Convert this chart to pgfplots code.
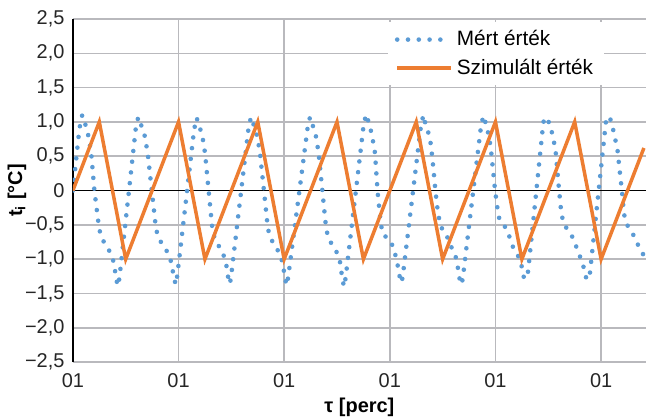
\documentclass[border=0pt]{standalone}
\usepackage{fontspec}
\setmainfont{Liberation Sans}
\usepackage{pgfplots}
\pgfplotsset{compat=1.18}
\definecolor{mert}{HTML}{5B9BD5}
\definecolor{szim}{HTML}{ED7D31}
\definecolor{racs}{HTML}{B9B9BD}

\begin{document}
\begin{tikzpicture}
\begin{axis}[
  scale only axis,
  width=287pt, height=171.85pt,
  xmin=0, xmax=54.25, ymin=-2.5, ymax=2.5,
  axis line style={draw=none},
  major tick length=0pt,
  grid=major,
  major grid style={racs, line width=0.75pt},
  xtick={0,10,20,30,40,50},
  xticklabels={01,01,01,01,01,01},
  ytick={-2.5,-2,-1.5,-1,-0.5,0,0.5,1,1.5,2,2.5},
  yticklabels={{−2,5},{−2,0},{−1,5},{−1,0},{−0,5},0,{0,5},{1,0},{1,5},{2,0},{2,5}},
  extra x ticks={0}, extra x tick labels={},
  extra x tick style={grid=major, major grid style={black, line width=0.75pt}},
  extra y ticks={0}, extra y tick labels={},
  extra y tick style={grid=major, major grid style={black, line width=0.75pt}},
  /pgf/number format/assume math mode=true,
  tick label style={font=\fontsize{10}{12}\selectfont, text=black!85},
  xticklabel style={anchor=base, yshift=-12.8pt},
  yticklabel style={xshift=-0.7pt},
  every axis x label/.style={at={(axis description cs:0.5,0)}, anchor=base, yshift=-25.2pt},
  every axis y label/.style={at={(axis description cs:-0.0976,0.5)}, rotate=90, anchor=center},
  label style={font=\bfseries\fontsize{10}{12}\selectfont},
  xlabel={τ [perc]},
  ylabel={t\textsubscript{i} [°C]},
  legend style={at={(axis description cs:0.549,0.991)}, anchor=north west,
    draw=none, fill=white, inner xsep=3.5pt, inner ysep=2pt, row sep=1pt,
    font=\fontsize{10.4}{12}\selectfont},
  legend cell align=left,
  legend image code/.code={\draw[#1] (0pt,0pt) -- (26.7pt,0pt);},
]
\addplot[mert, line width=2.3pt, line cap=round, dash pattern=on 0pt off 5.4pt] coordinates {
  (0,0.00) (0.616,0.90) (0.881,1.10)
  (1.153,0.98) (1.460,0.80) (1.733,0.55) (2.036,0.0) (2.483,-0.55) (2.653,-0.66)
  (3.028,-0.78) (3.540,-0.90) (3.881,-1.05) (4.119,-1.31) (4.290,-1.39)
  (4.432,-1.24) (5.947,0.90) (6.184,1.07)
  (6.470,0.95) (6.791,0.80) (7.077,0.55) (7.469,0) (7.862,-0.55) (8.040,-0.66)
  (8.433,-0.78) (8.969,-0.90) (9.326,-1.05) (9.576,-1.29) (9.754,-1.37)
  (9.896,-1.22) (11.477,0.89) (11.714,1.06)
  (11.966,0.94) (12.250,0.80) (12.503,0.55) (12.849,0) (13.196,-0.55) (13.354,-0.66)
  (13.701,-0.78) (14.173,-0.90) (14.489,-1.05) (14.710,-1.28) (14.867,-1.36)
  (15.010,-1.21) (16.619,0.90) (16.856,1.07)
  (17.129,0.95) (17.436,0.80) (17.708,0.55) (18.083,0) (18.458,-0.55) (18.629,-0.66)
  (19.004,-0.78) (19.515,-0.90) (19.856,-1.05) (20.095,-1.30) (20.265,-1.38)
  (20.407,-1.23) (22.206,0.90) (22.443,1.07)
  (22.703,0.95) (22.995,0.80) (23.256,0.55) (23.613,0) (23.970,-0.55) (24.133,-0.66)
  (24.490,-0.78) (24.976,-0.90) (25.301,-1.05) (25.529,-1.32) (25.691,-1.40)
  (25.833,-1.25) (27.509,0.94) (27.746,1.11)
  (28.017,0.99) (28.321,0.80) (28.592,0.55) (28.835,0) (29.140,-0.48) (29.356,-0.64)
  (29.990,-0.72) (30.370,-0.84) (30.620,-1.00) (30.840,-1.16) (30.990,-1.32) (31.127,-1.34)
  (31.269,-1.19) (32.936,0.93) (33.172,1.10)
  (33.428,0.94) (33.741,0.80) (33.902,0.65) (34.119,0.33) (34.309,0.01) (34.536,-0.30)
  (34.725,-0.46) (35.066,-0.61) (35.540,-0.70) (35.890,-0.85) (36.269,-0.98)
  (36.458,-1.14) (36.619,-1.30) (36.809,-1.37)
  (36.951,-1.22) (38.617,0.92) (38.854,1.09)
  (39.205,0.92) (39.555,0.63) (39.962,0.0) (40.294,-0.38) (40.530,-0.46) (41.070,-0.56)
  (41.383,-0.70) (41.695,-0.84) (42.169,-0.96) (42.491,-1.11) (42.585,-1.22)
  (42.708,-1.27) (42.850,-1.29)
  (43.087,-1.18) (44.536,1.00) (44.858,1.07)
  (45.237,0.92) (45.672,0.61) (46.023,0.0) (46.241,-0.34) (46.496,-0.50) (46.998,-0.60)
  (47.443,-0.72) (47.756,-0.87) (48.106,-1.00) (48.390,-1.14) (48.580,-1.27) (48.722,-1.30)
  (48.911,-1.25) (50.473,1.03) (50.805,1.08)
  (51.108,0.91) (51.544,0.60) (51.989,-0.04) (52.178,-0.35) (52.462,-0.50) (52.964,-0.62)
  (53.343,-0.74) (53.722,-0.87) (54.072,-0.95)
};
\addlegendentry{Mért érték}
\addplot[szim, line width=1.75pt, line join=miter] coordinates {
  (0,0) (2.5,1) (5,-1) (10,1) (12.5,-1) (17.5,1) (20,-1) (25,1) (27.5,-1)
  (32.5,1) (35,-1) (40,1) (42.5,-1) (47.5,1) (50,-1) (54.05,0.62)
};
\addlegendentry{Szimulált érték}
\end{axis}
\pgfresetboundingbox
\path ([shift={(-36.5pt,-28.15pt)}]current axis.south west) rectangle ([shift={(0.5pt,9.5pt)}]current axis.north east);
\end{tikzpicture}
\end{document}
